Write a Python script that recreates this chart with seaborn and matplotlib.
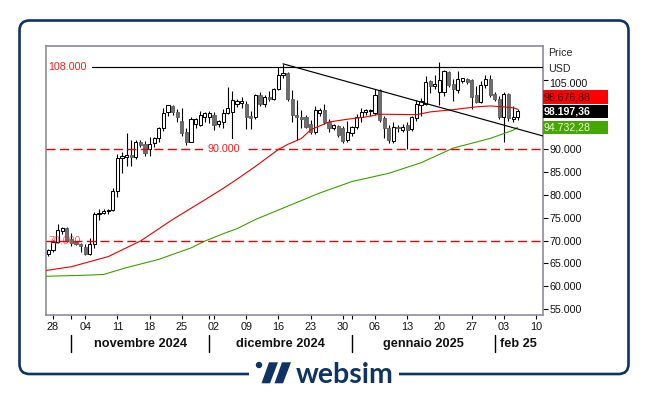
import matplotlib
matplotlib.use("Agg")
import matplotlib.pyplot as plt
import matplotlib.dates as mdates
import matplotlib.transforms as mtransforms
from matplotlib.patches import FancyBboxPatch, Rectangle, Polygon, Circle
import numpy as np
import pandas as pd
import seaborn as sns

# daily candles, values in thousands of USD
dates = pd.date_range("2024-10-27", "2025-02-06", freq="D")
opens = [67.0, 67.9, 69.8, 72.2, 72.8, 70.3, 69.6, 69.3, 68.6, 67.1,
         69.3, 75.8, 76.1, 76.4, 76.6, 80.9, 88.0, 88.3, 88.7, 88.2,
         91.6, 91.0, 89.9, 91.3, 92.3, 94.5, 98.1, 99.4, 98.1, 96.2,
         93.7, 91.6, 95.4, 95.2, 96.9, 96.9, 97.4, 95.4, 95.9, 97.9,
         98.1, 99.9, 100.0, 99.9, 97.2, 97.0, 101.7, 99.8, 101.3, 101.0,
         103.0, 106.1, 106.5, 101.0, 97.5, 97.0, 97.0, 95.5, 93.8, 97.8,
         98.5, 95.9, 94.5, 95.0, 94.5, 92.0, 93.5, 94.7, 97.0, 98.0,
         98.3, 97.8, 102.8, 96.7, 94.5, 91.8, 94.9, 94.2, 95.2, 94.3,
         96.7, 99.6, 99.9, 104.8, 103.7, 102.5, 102.5, 106.8, 104.3, 102.8,
         104.9, 105.2, 105.0, 101.7, 100.3, 103.9, 105.2, 102.1, 101.0, 97.0,
         102.1, 96.5, 97.0]
highs = [68.2, 70.2, 73.6, 72.9, 72.9, 71.6, 70.0, 69.5, 69.2, 70.6,
         76.3, 76.9, 76.9, 76.8, 81.4, 89.0, 89.4, 93.4, 92.0, 91.9,
         91.9, 91.7, 92.7, 92.7, 94.9, 99.0, 99.6, 99.5, 98.7, 98.9,
         94.6, 96.9, 96.7, 98.4, 98.0, 98.2, 98.0, 96.4, 98.8, 103.5,
         102.7, 100.9, 101.4, 100.4, 98.3, 102.0, 102.5, 101.9, 102.6, 103.3,
         107.9, 108.6, 106.8, 102.8, 100.7, 98.5, 97.4, 96.3, 99.4, 99.0,
         99.9, 96.5, 95.5, 95.3, 95.1, 96.1, 95.0, 97.7, 98.9, 98.7,
         98.8, 103.0, 103.0, 97.3, 95.3, 95.8, 95.3, 95.4, 95.9, 97.3,
         100.7, 101.2, 105.9, 105.0, 106.1, 109.0, 107.3, 107.1, 105.3, 107.1,
         105.6, 105.5, 105.3, 103.7, 104.8, 106.1, 106.1, 102.5, 101.5, 102.5,
         102.3, 99.4, 98.8]
lows = [66.7, 67.5, 69.5, 71.4, 69.6, 68.9, 69.0, 67.5, 66.8, 66.9,
        68.3, 74.6, 75.7, 75.9, 76.4, 79.5, 84.8, 86.2, 86.2, 87.8,
        90.4, 88.4, 88.5, 90.5, 91.6, 93.9, 97.2, 97.4, 95.9, 92.8,
        90.8, 91.5, 94.6, 95.0, 96.0, 95.7, 94.2, 94.8, 94.5, 97.6,
        92.1, 99.2, 99.0, 94.3, 94.3, 96.5, 99.4, 99.2, 100.5, 100.7,
        102.8, 105.4, 100.5, 96.0, 92.0, 94.5, 94.5, 93.3, 93.2, 97.3,
        95.4, 93.7, 94.2, 92.7, 91.3, 91.6, 92.9, 94.3, 96.0, 97.4,
        97.3, 97.5, 96.0, 92.5, 91.3, 91.3, 93.8, 93.8, 89.9, 94.0,
        96.2, 97.3, 99.5, 102.3, 103.0, 99.6, 101.5, 103.5, 100.4, 102.3,
        104.4, 104.3, 98.8, 100.0, 100.0, 103.4, 101.4, 100.5, 96.6, 91.6,
        96.2, 96.0, 96.3]
closes = [67.9, 69.8, 72.4, 72.7, 69.9, 69.5, 69.3, 68.8, 67.1, 69.3,
          75.8, 76.1, 76.4, 76.6, 80.9, 88.0, 88.4, 88.6, 88.2, 91.5,
          90.9, 89.2, 91.2, 92.3, 94.5, 97.9, 99.5, 98.1, 97.0, 93.5,
          91.6, 96.5, 96.6, 97.5, 97.8, 97.9, 95.2, 96.1, 97.9, 99.0,
          100.8, 100.4, 100.5, 97.0, 96.8, 101.7, 99.8, 101.3, 100.9, 103.0,
          106.1, 106.6, 101.0, 97.5, 97.0, 96.6, 94.8, 93.8, 98.5, 98.5,
          95.9, 94.5, 95.2, 93.0, 91.8, 93.8, 94.7, 97.0, 98.1, 98.5,
          98.5, 101.7, 96.3, 94.5, 92.0, 94.7, 94.5, 94.8, 94.1, 97.0,
          99.9, 100.5, 104.6, 103.7, 104.3, 105.0, 107.0, 103.9, 103.2, 105.2,
          105.4, 104.6, 101.4, 100.3, 103.9, 105.2, 101.7, 101.0, 97.0, 102.1,
          96.7, 97.0, 98.2]

# moving averages
ma50_dates = ["2024-10-26", "2024-11-01", "2024-11-09", "2024-11-16", "2024-11-23",
              "2024-11-30", "2024-12-04", "2024-12-07", "2024-12-11", "2024-12-16",
              "2024-12-18", "2024-12-21", "2024-12-23", "2024-12-27", "2024-12-31",
              "2025-01-04", "2025-01-07", "2025-01-15", "2025-01-18", "2025-01-23",
              "2025-01-28", "2025-01-31", "2025-02-03", "2025-02-05", "2025-02-06"]
ma50_values = [63.4, 64.3, 66.5, 69.9, 74.6, 78.9, 81.4, 83.4, 86.2, 89.9,
               91.0, 92.3, 94.2, 95.9, 96.5, 97.0, 97.6, 97.5, 98.1, 98.6,
               99.2, 99.4, 99.2, 99.0, 98.68]
ma100_dates = ["2024-10-26", "2024-11-03", "2024-11-08", "2024-11-13", "2024-11-20",
               "2024-11-27", "2024-11-30", "2024-12-04", "2024-12-07", "2024-12-11",
               "2024-12-18", "2024-12-25", "2025-01-01", "2025-01-09", "2025-01-16",
               "2025-01-23", "2025-01-31", "2025-02-05", "2025-02-06"]
ma100_values = [62.2, 62.4, 62.6, 64.1, 65.9, 68.4, 69.9, 71.5, 72.6, 74.6,
                77.5, 80.4, 82.9, 84.7, 87.0, 90.2, 92.3, 94.1, 94.73]

trend_dates = ["2024-12-17", "2025-02-12"]
trend_values = [108.6, 92.7]

price_ticks = [55, 60, 65, 70, 75, 80, 85, 90, 105]
week_ticks = ["2024-10-28", "2024-11-04", "2024-11-11", "2024-11-18", "2024-11-25",
              "2024-12-02", "2024-12-09", "2024-12-16", "2024-12-23", "2024-12-30",
              "2025-01-06", "2025-01-13", "2025-01-20", "2025-01-27", "2025-02-03",
              "2025-02-10"]
month_starts = ["2024-11-01", "2024-12-01", "2025-01-01", "2025-02-01", "2025-03-01"]
month_labels = ["novembre 2024", "dicembre 2024", "gennaio 2025", "feb 25"]
badge_labels = ["98.676,88", "98.197,36", "94.732,28"]

navy = "#0e3364"
red = "#e80000"

sns.set_theme(style="white")
plt.rcParams["font.family"] = ["Liberation Sans", "DejaVu Sans"]
plt.rcParams["lines.scale_dashes"] = False

fig = plt.figure(figsize=(6.48, 3.93), dpi=100)
ax = fig.add_axes([46 / 648, 1 - 315 / 393, 496.5 / 648, 269.5 / 393])

x = mdates.date2num(dates)
o = np.array(opens)
c = np.array(closes)
up = c >= o
body_h = np.maximum(np.abs(c - o), 0.22)
body_b = np.minimum(o, c)

# candles: wicks first, then bodies
ax.vlines(x, lows, highs, color="black", lw=0.8, zorder=2)
ax.bar(x[up], body_h[up], bottom=body_b[up], width=0.68, color="white",
       edgecolor="black", lw=0.75, zorder=3)
ax.bar(x[~up], body_h[~up], bottom=body_b[~up], width=0.68, color="#6e6e6e",
       edgecolor="#5c5c5c", lw=0.6, zorder=3)

sns.lineplot(x=mdates.date2num(pd.to_datetime(ma50_dates)), y=ma50_values,
             ax=ax, color=red, lw=0.8, zorder=4)
sns.lineplot(x=mdates.date2num(pd.to_datetime(ma100_dates)), y=ma100_values,
             ax=ax, color="#3f9e00", lw=0.8, zorder=4)
ax.plot(mdates.date2num(pd.to_datetime(trend_dates)), trend_values,
        color="black", lw=0.85, zorder=4)

# levels
ax.axhline(108, xmin=0.0926, color="black", lw=0.85, zorder=4)
ax.axhline(90, color=red, lw=1.0, dashes=(6.5, 3.2), zorder=4)
ax.axhline(70, color=red, lw=1.0, dashes=(6.5, 3.2), zorder=4)
ax.text(0.004, 108, "108.000", transform=ax.get_yaxis_transform(), color="#ff1a1a",
        fontsize=7.7, ha="left", va="center")
ax.text(0.3585, 90, "90.000", transform=ax.get_yaxis_transform(), color="#ff1a1a",
        fontsize=7.7, ha="center", va="center", zorder=5,
        bbox=dict(boxstyle="square,pad=0.45", fc="white", ec="none"))
ax.text(0.004, 70, "70.000", transform=ax.get_yaxis_transform(), color="#ff3030",
        alpha=0.75, fontsize=7.7, ha="left", va="center", zorder=3)

ax.set_xlim(mdates.date2num(pd.Timestamp("2024-10-26 11:30")),
            mdates.date2num(pd.Timestamp("2025-02-11 09:30")))
ax.set_ylim(53.75, 112.6)

# right price axis (the 105 label sits a little below its tick)
ax.yaxis.tick_right()
ax.set_yticks(price_ticks)
ax.set_yticklabels([f"{v * 1000:,.0f}".replace(",", ".") if v != 105 else ""
                    for v in price_ticks])
ax.tick_params(axis="y", direction="out", length=3.6, width=0.8, color="black",
               pad=1.5, labelsize=7.7, labelcolor="#111111", right=True, left=False)
ax.text(1.0145, 104.2, "105.000", transform=ax.get_yaxis_transform(), fontsize=7.7,
        color="#111111", ha="left", va="center")

# bottom date axis
wk = mdates.date2num(pd.to_datetime(week_ticks))
ms = mdates.date2num(pd.to_datetime(month_starts))
ax.set_xticks(wk)
ax.set_xticklabels([d[-2:] for d in week_ticks])
ax.set_xticks(ms[:-1], minor=True)
ax.tick_params(axis="x", which="both", direction="out", length=3.2, width=0.8,
               color="black", pad=2, labelsize=7.8, labelcolor="#111111", bottom=True)
ax.grid(False)

for s in ax.spines.values():
    s.set_color("#8c8c9c")
    s.set_linewidth(1.2)

trans = mtransforms.blended_transform_factory(ax.transData, ax.transAxes)
x0, x1 = ax.get_xlim()
for i, label in enumerate(month_labels):
    a, b = max(ms[i], x0), min(ms[i + 1], x1)
    ax.text((a + b) / 2, -0.108, label, transform=trans, ha="center", va="center",
            fontsize=9.2, fontweight="bold", color="#111111")
    ax.plot([ms[i], ms[i]], [-0.074, -0.137], transform=trans, color="black",
            lw=1.0, clip_on=False)

ax.text(1.011, 0.973, "Price", transform=ax.transAxes, fontsize=7.7, va="center")
ax.text(1.011, 0.913, "USD", transform=ax.transAxes, fontsize=7.7, va="center")

# last value badges
ytr = ax.get_yaxis_transform()
badge_pos = [101.35, closes[-1], ma100_values[-1]]
badge_fc = ["#ff0000", "#000000", "#44a800"]
badge_tc = ["#2a0000", "white", "#f4f4dc"]
for lab, yv, fc, tc in zip(badge_labels, badge_pos, badge_fc, badge_tc):
    ax.add_patch(Rectangle((1.001, yv - 1.47), 0.131, 2.94, transform=ytr,
                           fc=fc, ec="none", clip_on=False, zorder=6))
    ax.text(1.003, yv, lab, transform=ytr, fontsize=7.6, color=tc, ha="left",
            va="center", zorder=7, clip_on=False,
            fontweight="bold" if fc == "#000000" else "normal")

# outer frame and logo, in pixel units
px = mtransforms.IdentityTransform()
fig.add_artist(FancyBboxPatch((19.5, 19), 609, 353.5,
                              boxstyle="round,pad=0,rounding_size=10",
                              transform=px, fc="none", ec=navy, lw=1.9, zorder=1))
fig.add_artist(Rectangle((249, 13), 150, 12, transform=px, fc="white", ec="none", zorder=2))
fig.add_artist(Circle((259, 28), 3.2, transform=px, fc=navy, ec="none", zorder=3))
fig.add_artist(Polygon([(269.0, 30.7), (278.0, 30.7), (270.0, 9.7), (261.5, 9.7)],
                       closed=True, transform=px, fc=navy, ec="none", zorder=3))
fig.add_artist(Polygon([(282.0, 30.7), (291.0, 30.7), (283.0, 9.7), (274.5, 9.7)],
                       closed=True, transform=px, fc=navy, ec="none", zorder=3))
fig.text(296.0 / 648, 9.7 / 393, "websim", fontfamily="Lato", fontweight="bold",
         fontsize=20.5, color=navy, ha="left", va="baseline", zorder=3)

fig.savefig("out.png", dpi=100, facecolor="white")
